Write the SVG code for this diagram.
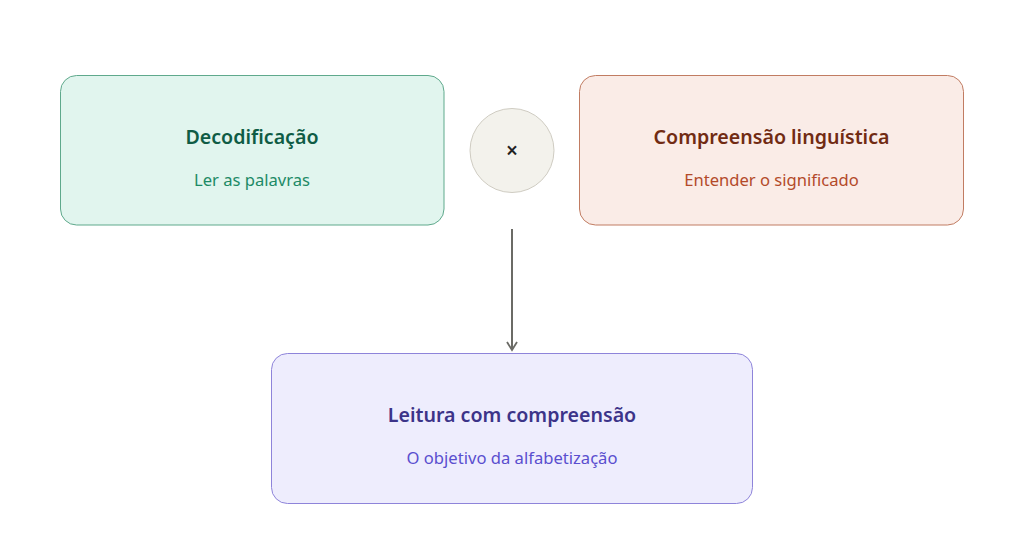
<svg xmlns="http://www.w3.org/2000/svg" width="1024" height="542" viewBox="0 0 1024 542">
<style>
.t{font-family:"Noto Sans","Open Sans",sans-serif;font-weight:600;font-size:19.6px;text-anchor:middle}
.s{font-family:"Noto Sans","Open Sans",sans-serif;font-size:16.6px;text-anchor:middle}
</style>
<defs>
<marker id="ah" viewBox="0 0 12 12" refX="10" refY="6" markerWidth="12" markerHeight="12" markerUnits="userSpaceOnUse" orient="auto">
<path d="M2 1L10 6L2 11" fill="none" stroke="#6b6b66" stroke-width="1.8"/>
</marker>
</defs>
<rect width="1024" height="542" fill="#ffffff"/>
<g id="decodificacao">
<rect x="60.5" y="75.5" width="383.5" height="149.5" rx="16" fill="#e1f5ee" stroke="#5fa98c" stroke-width="1"/>
<text class="t" x="252" y="144" fill="#0f5c45">Decodificação</text>
<text class="s" x="252" y="186" fill="#1d8a66">Ler as palavras</text>
</g>
<g id="vezes">
<circle cx="512" cy="150.5" r="42" fill="#f3f2ec" stroke="#cfccc2" stroke-width="1"/>
<text x="512" y="158" font-family="Noto Sans,sans-serif" font-size="21" font-weight="600" text-anchor="middle" fill="#222">×</text>
</g>
<g id="compreensao">
<rect x="579.5" y="75.5" width="384" height="149.5" rx="16" fill="#faece7" stroke="#c17c62" stroke-width="1"/>
<text class="t" x="771.5" y="144" fill="#712b13">Compreensão linguística</text>
<text class="s" x="771.5" y="186" fill="#b34a2a">Entender o significado</text>
</g>
<g id="leitura">
<rect x="271.5" y="353.5" width="481" height="150" rx="16" fill="#eeedfd" stroke="#8e84da" stroke-width="1"/>
<text class="t" x="512" y="422" fill="#3c3489">Leitura com compreensão</text>
<text class="s" x="512" y="464" fill="#5a4fcf">O objetivo da alfabetização</text>
</g>
<g id="connectors">
<line x1="512" y1="229" x2="512" y2="350" stroke="#6b6b66" stroke-width="2" marker-end="url(#ah)"/>
</g>
</svg>
